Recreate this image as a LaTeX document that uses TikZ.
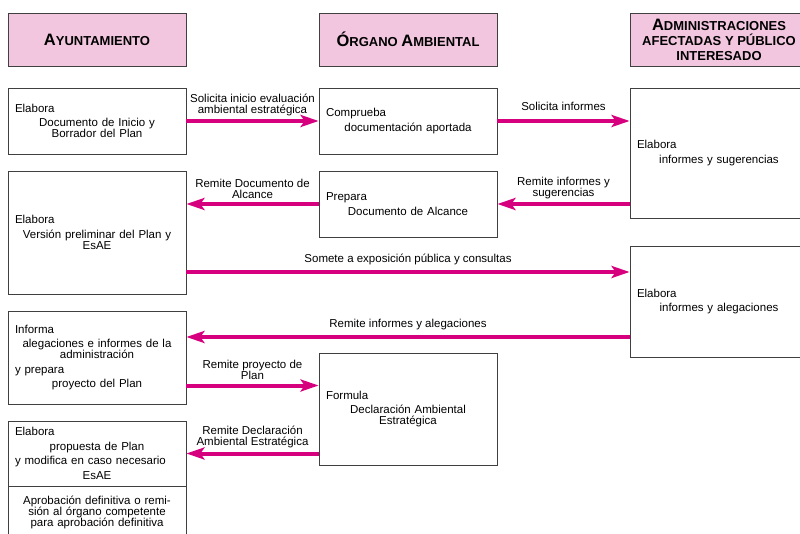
\documentclass[tikz,border=0pt]{standalone}
\usepackage{fontspec}
\setmainfont{Liberation Sans}
\usetikzlibrary{arrows.meta}
\definecolor{hdrpink}{RGB}{243,198,224}
\definecolor{flowmag}{RGB}{214,0,127}
\newcommand\hcap[2]{{\fontsize{16.5}{15}\selectfont #1}#2}
\newcommand\lft[1]{\makebox[164pt][l]{#1}}

\begin{document}
\begin{tikzpicture}[x=1pt,y=-1pt,
  hdr/.style={draw=black!75,line width=0.8pt,fill=hdrpink,minimum width=178pt,
    minimum height=53pt,inner sep=0pt,align=center,
    font=\bfseries\fontsize{13}{15}\selectfont},
  box/.style={draw=black!75,line width=0.8pt,fill=white,minimum width=178pt,
    text width=164pt,inner xsep=7pt,inner ysep=0pt,align=center,
    font=\fontsize{11.5}{11}\selectfont},
  flow/.style={draw=flowmag,line width=4pt,-{Stealth[length=18pt,width=12pt,inset=4pt]}},
  lbl/.style={above=3.5pt,inner sep=0pt,align=center,font=\fontsize{11.5}{11}\selectfont}]
\useasboundingbox (0,0) rectangle (800,534);
\clip (0,0) rectangle (800,534);

\node (hA) at (97,39.5)  [hdr] {\hcap{A}{YUNTAMIENTO}};
\node (hO) at (408,39.5) [hdr] {\hcap{Ó}{RGANO} \hcap{A}{MBIENTAL}};
\node (hD) at (719,39.5) [hdr] {\hcap{A}{DMINISTRACIONES}\\AFECTADAS Y PÚBLICO\\INTERESADO};

\node (a1) at (97,121)   [box,minimum height=66pt]
  {\lft{Elabora}\\[3.5pt] Documento de Inicio y\\Borrador del Plan};
\node (o1) at (408,121)  [box,minimum height=66pt]
  {\lft{Comprueba}\\[3.5pt] documentación aportada};
\node (d1) at (719,153)  [box,minimum height=130pt]
  {\lft{Elabora}\\[3.5pt] informes y sugerencias};
\node (a2) at (97,232.5) [box,minimum height=123pt]
  {\lft{Elabora}\\[3.5pt] Versión preliminar del Plan y\\EsAE};
\node (o2) at (408,204)  [box,minimum height=66pt]
  {\lft{Prepara}\\[3.5pt] Documento de Alcance};
\node (d2) at (719,301.5) [box,minimum height=111pt]
  {\lft{Elabora}\\[3.5pt] informes y alegaciones};
\node (a3) at (97,357.5) [box,minimum height=93pt]
  {\lft{Informa}\\[3.5pt] alegaciones e informes de la\\administración\\[4pt]
   \lft{y prepara}\\[2.5pt] proyecto del Plan};
\node (o3) at (408,409)  [box,minimum height=112pt]
  {\lft{Formula}\\[3.5pt] Declaración Ambiental\\Estratégica};
\node (a4) at (97,453.5) [box,minimum height=65pt]
  {\lft{Elabora}\\[4pt] propuesta de Plan\\[3pt] \lft{y modifica en caso necesario}\\[4pt] EsAE};
\node (a5) at (97,512)   [box,minimum height=52pt]
  {Aprobación definitiva o remi-\\sión al órgano competente\\para aprobación definitiva};

\coordinate (a2out) at ([yshift=-39.5pt]a2.east);
\coordinate (d2out) at ([yshift=-35.5pt]d2.west);
\coordinate (a3out) at ([yshift=-28pt]a3.east);

\draw [flow] (a1) -- (o1) node [lbl,midway] {Solicita inicio evaluación\\ambiental estratégica};
\draw [flow] (o1.east) -- (o1.east -| d1.west) node [lbl,midway,above=5pt] {Solicita informes};
\draw [flow] (o2.east -| d1.west) -- (o2.east) node [lbl,midway] {Remite informes y\\sugerencias};
\draw [flow] (o2.west) -- (o2.west -| a2.east) node [lbl,midway] {Remite Documento de\\Alcance};
\draw [flow] (a2out) -- (a2out -| d2.west) node [lbl,midway,above=2pt] {Somete a exposición pública y consultas};
\draw [flow] (d2out) -- (d2out -| a3.east) node [lbl,midway,above=1.5pt] {Remite informes y alegaciones};
\draw [flow] (a3out) -- (a3out -| o3.west) node [lbl,midway] {Remite proyecto de\\Plan};
\draw [flow] (o3.west |- a4.east) -- (a4.east) node [lbl,midway] {Remite Declaración\\Ambiental Estratégica};
\end{tikzpicture}
\end{document}
